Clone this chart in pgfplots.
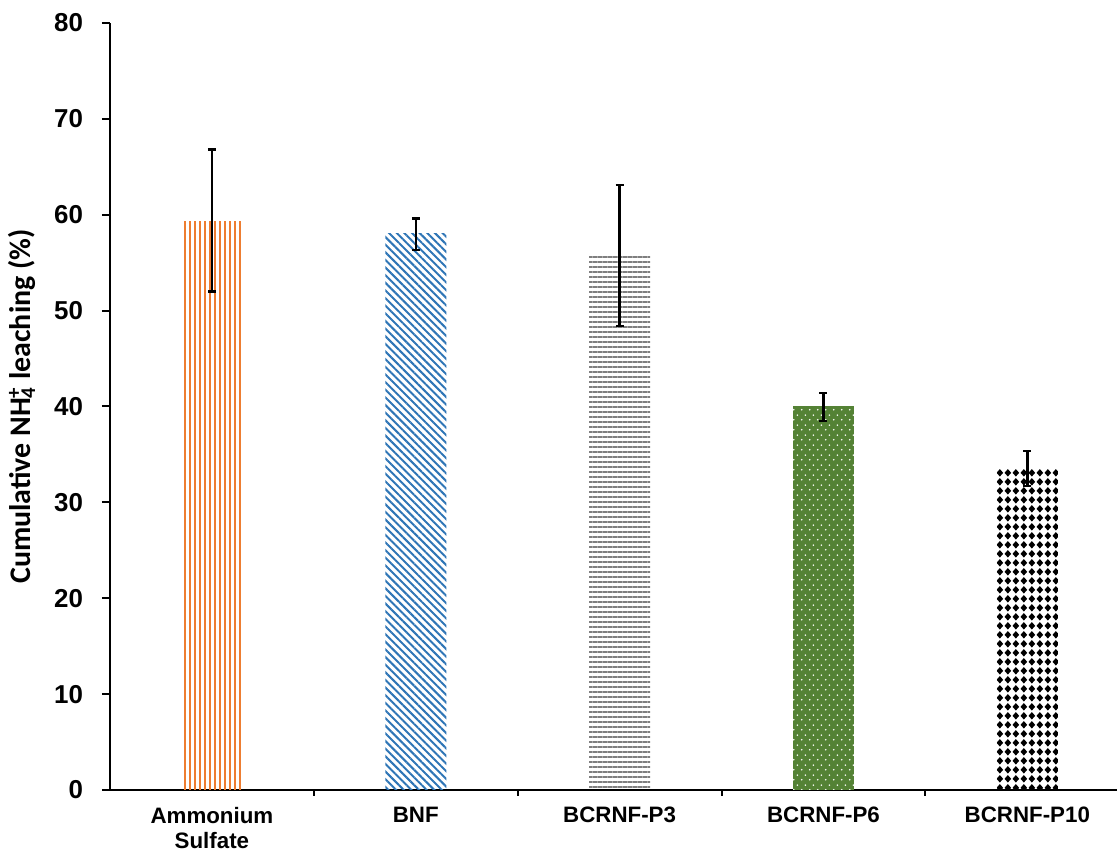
\documentclass[border=0pt]{standalone}
\usepackage{fontspec}
\setmainfont{Liberation Sans}
\newfontfamily\carlito{Carlito}
\usepackage{pgfplots}
\pgfplotsset{compat=1.18}
\usetikzlibrary{patterns,patterns.meta}

\definecolor{asorange}{HTML}{ED7D31}
\definecolor{bnfblue}{HTML}{2E75B6}
\definecolor{ptgray}{HTML}{7F7F7F}
\definecolor{ptgreen}{HTML}{548235}

% staggered small dots
\tikzdeclarepattern{
  name=stagdots, type=uncolored,
  bounding box={(0bp,0bp) and (4bp,5bp)},
  tile size={(4bp,5bp)},
  code={\fill (1bp,1.25bp) circle (0.5bp); \fill (3bp,3.75bp) circle (0.5bp);}
}
% solid diamonds
\tikzdeclarepattern{
  name=diamonds, type=uncolored,
  bounding box={(0bp,0bp) and (4.15bp,4.35bp)},
  tile size={(4.15bp,4.35bp)},
  code={\fill (2.075bp,0.25bp) -- (3.85bp,2.175bp) -- (2.075bp,4.1bp) -- (0.3bp,2.175bp) -- cycle;}
}

\begin{document}
\begin{tikzpicture}
\path[use as bounding box] (-55bp,-31bp) rectangle (503.5bp,395bp);
\begin{axis}[
  at={(0,0)}, anchor=south west,
  scale only axis, width=503.5bp, height=383.5bp,
  xmin=-0.5, xmax=4.44, ymin=0, ymax=80,
  axis x line*=bottom, axis y line*=left,
  axis line style={line width=1bp, black},
  ytick={0,10,...,80},
  xtick={0,1,2,3,4},
  xticklabels={{Ammonium\\Sulfate},BNF,BCRNF-P3,BCRNF-P6,BCRNF-P10},
  minor xtick={0.5,1.5,2.5,3.5},
  every major x tick/.append style={draw=none},
  tick align=outside,
  major tick length=4bp, minor tick length=3bp,
  tick style={line width=1bp, black},
  /pgf/number format/assume math mode=true,
  yticklabel style={font=\bfseries\fontsize{13}{15}\selectfont, xshift=-6bp},
  xticklabel style={font=\bfseries\fontsize{11.2}{12.8}\selectfont, align=center, yshift=-1bp},
  ylabel={\carlito\bfseries Cumulative NH\rlap{\textsuperscript{+}}\textsubscript{4} leaching (\%)},
  ylabel style={at={(axis description cs:-0.087,0.5)}, anchor=center, font=\fontsize{15}{17}\selectfont},
  ybar, bar width=30.5bp, bar shift=0pt,
  error bars/y dir=both, error bars/y explicit,
  error bars/error bar style={line width=1.25bp, black},
  error bars/error mark options={rotate=90, mark size=2bp, line width=1.25bp, black},
]
\addplot[draw=none, pattern={Lines[angle=90,distance=2.5bp,line width=0.75bp]}, pattern color=asorange]
  coordinates {(0,59.3) += (0,7.5) -= (0,7.3)};
\addplot[draw=none, pattern={Lines[angle=-45,distance=2.7bp,line width=1bp]}, pattern color=bnfblue]
  coordinates {(1,58.0) += (0,1.6) -= (0,1.7)};
\addplot[draw=none, pattern={Lines[angle=0,distance=2.5bp,line width=1bp]}, pattern color=ptgray]
  coordinates {(2,55.8) += (0,7.3) -= (0,7.4)};
\addplot[draw=none, fill=ptgreen, postaction={pattern=stagdots, pattern color=white}]
  coordinates {(3,40.0) += (0,1.4) -= (0,1.5)};
\addplot[draw=none, pattern=diamonds, pattern color=black]
  coordinates {(4,33.5) += (0,1.85) -= (0,1.8)};
\end{axis}
\end{tikzpicture}
\end{document}
